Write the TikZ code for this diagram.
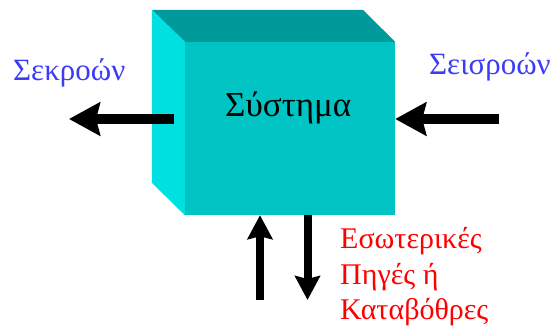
\documentclass[tikz,border=0pt]{standalone}
\usepackage{fontspec}
\setmainfont{Liberation Serif}
\usetikzlibrary{arrows.meta}
\definecolor{frontc}{RGB}{0,196,196}
\definecolor{sidec}{RGB}{0,224,224}
\definecolor{topc}{RGB}{0,154,154}
\definecolor{flowblue}{RGB}{60,60,245}
\definecolor{flowred}{RGB}{255,0,0}
\tikzset{
  sysbox/.style={rectangle, fill=frontc, draw=none, minimum width=210pt, minimum height=173pt, inner sep=0pt},
  bigarrow/.style={line width=10pt, -{Stealth[length=31pt, width=33pt, inset=4pt]}},
  vertarrow/.style={line width=8pt, -{Stealth[length=24pt, width=25pt, inset=3pt]}},
  bluelbl/.style={text=flowblue, font=\fontsize{31}{36}\selectfont, inner sep=0pt},
  redlbl/.style={text=flowred, font=\fontsize{30}{35.5}\selectfont, inner sep=0pt, align=left},
  syslbl/.style={text=black, font=\fontsize{35}{40}\selectfont, inner sep=0pt}
}
\begin{document}
\begin{tikzpicture}[x=1pt,y=-1pt]
\useasboundingbox (0,0) rectangle (552,328);
\node[sysbox] (sys) at (290,128.5) {};
% top face
\fill[topc] (sys.north west) -- ++(-33,-32) -- ++(211,0) -- (sys.north east) -- cycle;
% left face
\fill[sidec] (sys.north west) -- ++(-33,-32) -- ++(0,173) -- (sys.south west) -- cycle;
\node[syslbl, anchor=base west] (title) at (225,117) {Σύστημα};
% arrows
\coordinate (outstart) at (174,119);
\coordinate (outend) at (69,119);
\coordinate (instart) at (499,119);
\coordinate (upstart) at (260,300);
\coordinate (downend) at (307.5,300);
\draw[bigarrow] (outstart) -- (outend);
\draw[bigarrow] (instart) -- (sys.east |- instart);
\draw[vertarrow] (upstart) -- (upstart |- sys.south);
\draw[vertarrow] (downend |- sys.south) -- (downend);
% labels
\node[bluelbl, anchor=base west] (out) at (13,81) {Σεκροών};
\node[bluelbl, anchor=base west] (in) at (429,75) {Σεισροών};
\node[redlbl, anchor=base west] (src) at (340,320) {Εσωτερικές\\Πηγές ή\\Καταβόθρες};
\end{tikzpicture}
\end{document}
